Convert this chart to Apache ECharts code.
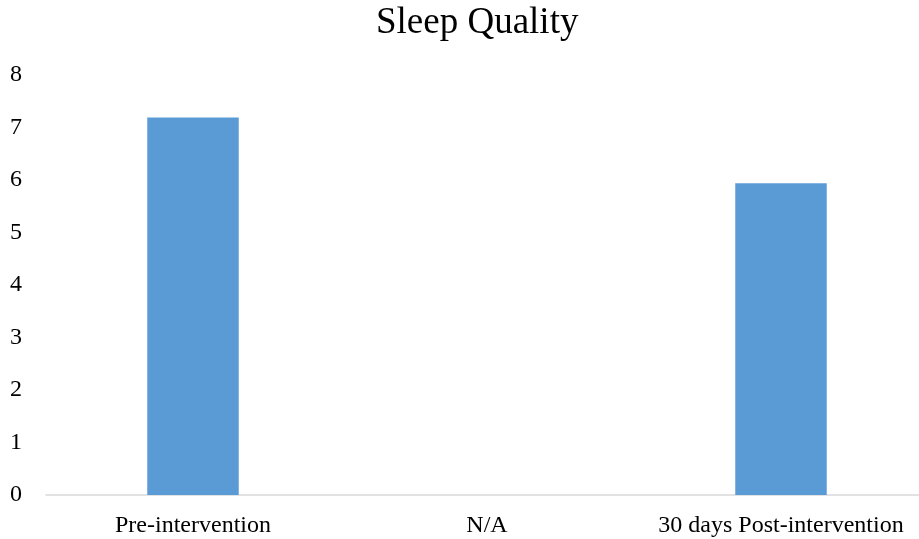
<!DOCTYPE html>
<html><head><meta charset="utf-8">
<script src="https://cdn.jsdelivr.net/npm/echarts@6/dist/echarts.min.js"></script>
<style>html,body{margin:0;padding:0;background:#fff;overflow:hidden}#c{width:928px;height:539px}</style>
</head><body><div id="c"></div>
<script>
const categories = ['Pre-intervention', 'N/A', '30 days Post-intervention'];
const values = [7.19, null, 5.94];
const yTicks = [0, 8, 1];

const chart = echarts.init(document.getElementById('c'));
chart.setOption({
  animation: false,
  title: {
    text: 'Sleep Quality', left: 371, top: 0,
    textStyle: { fontFamily: 'Liberation Serif', fontSize: 37, fontWeight: 'normal', color: '#000' }
  },
  grid: { left: 46, right: 0, top: 75, bottom: 44, containLabel: false },
  xAxis: {
    type: 'category', data: categories,
    axisLine: { lineStyle: { color: '#d9d9d9', width: 1.5 } },
    axisTick: { show: false },
    axisLabel: { fontFamily: 'Liberation Serif', fontSize: 24, color: '#000', margin: 19, interval: 0 }
  },
  yAxis: {
    type: 'value', min: yTicks[0], max: yTicks[1], interval: yTicks[2],
    splitLine: { show: false }, axisLine: { show: false }, axisTick: { show: false },
    axisLabel: { fontFamily: 'Liberation Serif', fontSize: 24, color: '#000', margin: 24 }
  },
  series: [{
    type: 'bar', data: values, barWidth: 91.5,
    itemStyle: { color: '#5b9bd5' }
  }]
});
</script></body></html>
